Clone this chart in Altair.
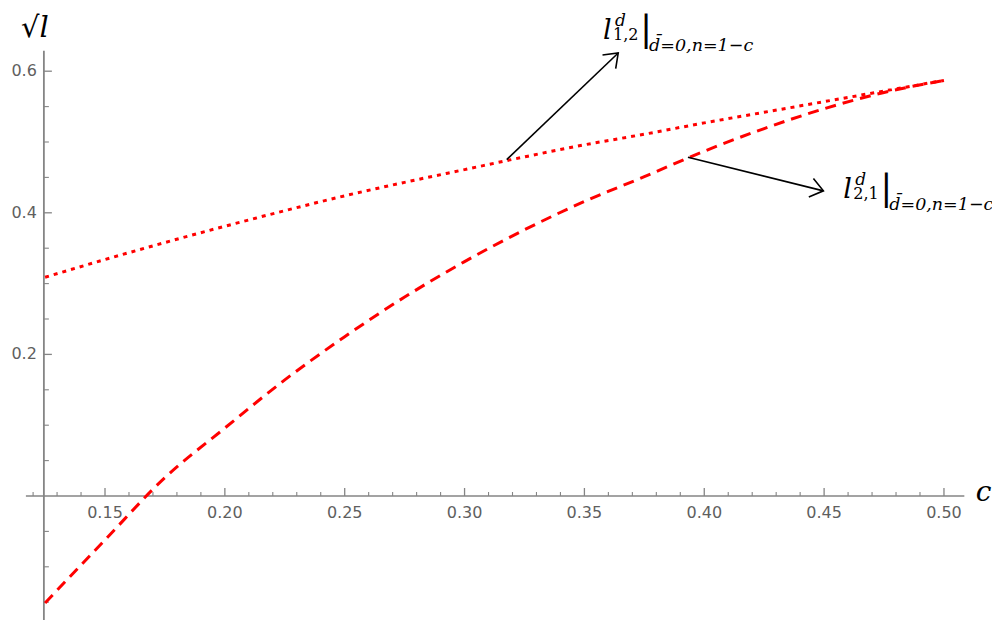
import altair as alt
import pandas as pd

# ---------------- data ----------------
c_grid = [0.125, 0.15, 0.175, 0.2, 0.225, 0.25, 0.275, 0.3, 0.325, 0.35,
          0.375, 0.4, 0.425, 0.45, 0.475, 0.5]
l12_vals = [0.309, 0.334, 0.358, 0.381, 0.403, 0.424, 0.443, 0.461, 0.479, 0.496,
            0.511, 0.527, 0.542, 0.557, 0.572, 0.587]
l21_vals = [-0.151, -0.062, 0.026, 0.096, 0.164, 0.225, 0.281, 0.331, 0.376, 0.416,
            0.451, 0.487, 0.519, 0.547, 0.570, 0.587]

x_major = [0.15, 0.20, 0.25, 0.30, 0.35, 0.40, 0.45, 0.50]
x_major_labels = ["0.15", "0.20", "0.25", "0.30", "0.35", "0.40", "0.45", "0.50"]
x_minor = [0.12, 0.13, 0.14, 0.16, 0.17, 0.18, 0.19, 0.21, 0.22, 0.23, 0.24,
           0.26, 0.27, 0.28, 0.29, 0.31, 0.32, 0.33, 0.34, 0.36, 0.37, 0.38, 0.39,
           0.41, 0.42, 0.43, 0.44, 0.46, 0.47, 0.48, 0.49]
y_major = [0.2, 0.4, 0.6]
y_major_labels = ["0.2", "0.4", "0.6"]
y_minor = [-0.15, -0.1, -0.05, 0.05, 0.1, 0.15, 0.25, 0.3, 0.35, 0.45, 0.5, 0.55]

# axis geometry (data units)
y_axis_at = 0.1245
x_axis_span = [0.117, 0.5085]
y_axis_span = [-0.2, 0.629]

# annotations (data units)
anno_c = [0.3578, 0.4580]
anno_v = [0.646, 0.4206]
anno_sub = ["1,2", "2,1"]
anno_sup = ["d", "d"]
anno_cond = ["d\u0304=0,n=1\u2212c", "d\u0304=0,n=1\u2212c"]
arrow1 = {"c": [0.3176], "v": [0.4752], "c2": [0.3641], "v2": [0.6257]}
arrow2 = {"c": [0.3932], "v": [0.4785], "c2": [0.4497], "v2": [0.4310]}
ylab = {"c": [0.1150], "v": [0.648], "t": ["\u221al"]}
xlab = {"c": [0.5133], "v": [-0.007], "t": ["c"]}

# ---------------- scales ----------------
W, H = 984, 612
X0, X1 = 0.10953, 0.52004
Y0, Y1 = (496 - 8 - H) / 708.0, (496 - 8) / 708.0
xs = alt.Scale(domain=[X0, X1], nice=False, zero=False)
ys = alt.Scale(domain=[Y0, Y1], nice=False, zero=False)


def X(f):
    return alt.X(f, type="quantitative", scale=xs, axis=None)


def Y(f):
    return alt.Y(f, type="quantitative", scale=ys, axis=None)


GRAY = "#858585"
LBL = "#5f5f5f"
RED = "#ff0000"
SERIF = "DejaVu Serif"

df12 = pd.DataFrame({"c": c_grid, "v": l12_vals})
df21 = pd.DataFrame({"c": c_grid, "v": l21_vals})

layers = []

# axes lines
layers.append(alt.Chart(pd.DataFrame({"c": [x_axis_span[0]], "c2": [x_axis_span[1]], "v": [0.0]}))
              .mark_rule(color=GRAY, strokeWidth=1.6)
              .encode(x=X("c"), x2="c2", y=Y("v")))
layers.append(alt.Chart(pd.DataFrame({"c": [y_axis_at], "v": [max(y_axis_span[0], Y0)], "v2": [y_axis_span[1]]}))
              .mark_rule(color=GRAY, strokeWidth=1.8)
              .encode(x=X("c"), y=Y("v"), y2="v2"))

# x ticks
dxM = pd.DataFrame({"c": x_major, "v": [0.0] * len(x_major), "t": x_major_labels})
dxm = pd.DataFrame({"c": x_minor, "v": [0.0] * len(x_minor)})
layers.append(alt.Chart(dxM).mark_tick(orient="vertical", size=8, thickness=1.3, yOffset=-4, color=GRAY, opacity=1)
              .encode(x=X("c"), y=Y("v")))
layers.append(alt.Chart(dxm).mark_tick(orient="vertical", size=4, thickness=1.1, yOffset=-2, color=GRAY, opacity=1)
              .encode(x=X("c"), y=Y("v")))
layers.append(alt.Chart(dxM).mark_text(font="DejaVu Sans", fontSize=16, color=LBL, dy=17, baseline="middle", align="center")
              .encode(x=X("c"), y=Y("v"), text="t:N"))

# y ticks
dyM = pd.DataFrame({"c": [y_axis_at] * len(y_major), "v": y_major, "t": y_major_labels})
dym = pd.DataFrame({"c": [y_axis_at] * len(y_minor), "v": y_minor})
layers.append(alt.Chart(dyM).mark_tick(orient="horizontal", size=8, thickness=1.3, xOffset=4, color=GRAY, opacity=1)
              .encode(x=X("c"), y=Y("v")))
layers.append(alt.Chart(dym).mark_tick(orient="horizontal", size=5, thickness=1.1, xOffset=2.5, color=GRAY, opacity=1)
              .encode(x=X("c"), y=Y("v")))
layers.append(alt.Chart(dyM).mark_text(font="DejaVu Sans", fontSize=16, color=LBL, dx=-7, baseline="middle", align="right")
              .encode(x=X("c"), y=Y("v"), text="t:N"))

# axis titles
layers.append(alt.Chart(pd.DataFrame(ylab)).mark_text(font=SERIF, fontStyle="italic", fontSize=29, color="black",
                                                      align="left", baseline="alphabetic")
              .encode(x=X("c"), y=Y("v"), text="t:N"))
layers.append(alt.Chart(pd.DataFrame(xlab)).mark_text(font=SERIF, fontStyle="italic", fontSize=28, color="black",
                                                      align="left", baseline="alphabetic")
              .encode(x=X("c"), y=Y("v"), text="t:N"))

# curves
layers.append(alt.Chart(df12).mark_line(color=RED, strokeWidth=3, strokeDash=[4, 5], strokeCap="butt",
                                        interpolate="monotone")
              .encode(x=X("c"), y=Y("v")))
layers.append(alt.Chart(df21).mark_line(color=RED, strokeWidth=3, strokeDash=[11, 7], strokeCap="butt",
                                        interpolate="monotone")
              .encode(x=X("c"), y=Y("v")))

# arrows
for arr, ang in ((arrow1, 46), (arrow2, 104)):
    dfa = pd.DataFrame(arr)
    layers.append(alt.Chart(dfa).mark_rule(color="black", strokeWidth=1.6)
                  .encode(x=X("c"), y=Y("v"), x2="c2", y2="v2"))
    layers.append(alt.Chart(dfa).mark_point(shape="M -0.75 1 L 0 0 L 0.75 1", filled=False, size=640,
                                            strokeWidth=1.6, color="black", opacity=1, angle=ang)
                  .encode(x=X("c2"), y=Y("v2")))

# annotation labels
dan = pd.DataFrame({"c": anno_c, "v": anno_v, "sub": anno_sub, "sup": anno_sup, "cond": anno_cond})
base = alt.Chart(dan).encode(x=X("c"), y=Y("v"))
layers.append(base.mark_text(text="l", font=SERIF, fontStyle="italic", fontSize=27, color="black",
                             align="left", baseline="alphabetic"))
layers.append(base.mark_text(font=SERIF, fontStyle="italic", fontSize=17, color="black",
                             align="left", baseline="alphabetic", dx=12, dy=-13).encode(text="sup:N"))
layers.append(base.mark_text(font=SERIF, fontSize=16, color="black",
                             align="left", baseline="alphabetic", dx=10, dy=1).encode(text="sub:N"))
layers.append(base.mark_text(text="|", font=SERIF, fontSize=36, color="black",
                             align="left", baseline="alphabetic", dx=37, dy=2))
layers.append(base.mark_text(font=SERIF, fontStyle="italic", fontSize=17.5, color="black",
                             align="left", baseline="alphabetic", dx=46, dy=12).encode(text="cond:N"))

chart = alt.layer(*layers).properties(
    width=W, height=H, padding=0, autosize=alt.AutoSizeParams(type="none")
).configure_view(strokeWidth=0)

chart.save("out.html", embed_options={"renderer": "svg", "actions": False})
